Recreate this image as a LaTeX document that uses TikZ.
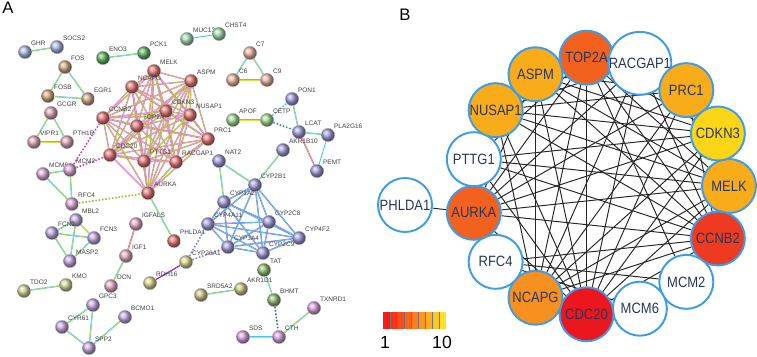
\documentclass[tikz,border=0pt]{standalone}
\usepackage{fontspec}
\setmainfont{Liberation Sans}
\newfontfamily\hubfont[FakeStretch=0.87]{Liberation Sans}
\usepackage{tikz}
\usetikzlibrary{backgrounds}

% STRING sphere colours
\definecolor{sBlu}{RGB}{150,170,222}
\definecolor{sGrn}{RGB}{60,165,60}
\definecolor{sMint}{RGB}{140,215,160}
\definecolor{sTan}{RGB}{195,150,100}
\definecolor{sPink}{RGB}{215,145,170}
\definecolor{sSalm}{RGB}{230,160,140}
\definecolor{sLime}{RGB}{140,210,120}
\definecolor{sPurp}{RGB}{140,135,215}
\definecolor{sRed}{RGB}{225,85,85}
\definecolor{sOrch}{RGB}{215,150,205}
\definecolor{sLav}{RGB}{180,150,222}
\definecolor{sRose}{RGB}{222,150,185}
\definecolor{sLil}{RGB}{185,150,225}
\definecolor{sOliv}{RGB}{200,205,130}
\definecolor{sKhak}{RGB}{215,205,120}
\definecolor{sMoss}{RGB}{120,175,80}
\definecolor{sSand}{RGB}{190,185,105}
\definecolor{sMag}{RGB}{210,140,220}
% evidence lines
\definecolor{eCyn}{RGB}{70,200,230}
\definecolor{eYel}{RGB}{215,225,60}
\definecolor{eMag}{RGB}{220,60,200}
\definecolor{eBlu}{RGB}{70,80,230}
% hub colours
\definecolor{hRed}{RGB}{236,22,30}
\definecolor{hRedO}{RGB}{239,58,34}
\definecolor{hOrR}{RGB}{242,98,30}
\definecolor{hOrg}{RGB}{246,144,30}
\definecolor{hOrgL}{RGB}{249,172,26}
\definecolor{hYel}{RGB}{252,214,22}
\definecolor{hBord}{RGB}{60,155,235}
\definecolor{hText}{RGB}{40,55,85}
\definecolor{cbR}{RGB}{255,25,20}
\definecolor{cbY}{RGB}{255,225,40}

\tikzset{
	sph/.style={circle, inner sep=0pt, minimum size=0.27cm, ball color=#1!80!white, draw=black!25, line width=0.15pt},
	albl/.style={font=\fontsize{3.7}{4}\selectfont, text=black!75, inner sep=0.5pt},
	lnk/.style 2 args={draw=#1, double=#2, double distance=0.3pt, line width=0.25pt},
	dlnk/.style={densely dotted, line width=0.9pt, draw=#1},
	hub/.style={circle, minimum size=1.08cm, inner sep=0pt, draw=hBord, line width=1.1pt, fill=#1, text=hText, font=\hubfont\fontsize{8.5}{9}\selectfont},
	hlink/.style={draw=black!85, line width=0.55pt},
	tag/.style={font=\fontsize{9.5}{10}\selectfont}
}

\begin{document}
\begin{tikzpicture}[x=0.02cm, y=-0.02cm]
	\useasboundingbox (0,0) rectangle (757,357);
	
	\node[tag] (tagA) at (8,8) {A};
	\node[tag] (tagB) at (405,15) {B};
	
	% --- panel A: STRING network
	\foreach \n/\x/\y/\c in {GHR/25/52/sBlu, SOCS2/57/47/sBlu, ENO3/103/58/sGrn, PCK1/144/53/sGrn,
		MUC13/187/39/sMint, CHST4/219/34/sMint, FOS/65/67/sTan, FOSB/48/96/sTan, EGR1/88/99/sTan,
		GCGR/51/113/sPink, VIPR1/34/142/sPink, PTH1R/67/142/sPink, C7/250/53/sSalm, C6/233/80/sSalm,
		C9/267/80/sSalm, PON1/292/99/sPurp, APOF/233/120/sLime, CETP/267/120/sLime, LCAT/299/132/sPurp,
		PLA2G16/328/135/sPurp, AKR1B10/283/150/sPurp, PEMT/317/171/sPurp, NAT2/219/161/sPurp,
		MELK/154/71/sRed, NCAPG/132/87/sRed, ASPM/191/81/sRed, CDKN3/166/111/sRed, NUSAP1/190/115/sRed,
		CCNB2/103/118/sRed, TOP2A/137/126/sRed, PRC1/208/139/sRed, CDC20/110/155/sRed, PTTG1/144/161/sRed,
		RACGAP1/176/162/sRed, AURKA/148/193/sRed, PHLDA1/174/241/sRed,
		MCM6/43/174/sOrch, MCM2/70/170/sOrch, RFC4/72/204/sOrch, MBL2/76/220/sLav, FCN2/52/233/sLav,
		FCN3/94/238/sLav, MASP2/70/261/sLav, IGFALS/136/224/sRose, IGF1/126/256/sRose, DCN/111/286/sRose,
		TDO2/24/291/sOliv, KMO/66/285/sOliv, RDH16/150/283/sKhak, CYP26A1/186/262/sKhak,
		GPC3/93/305/sLil, BCMO1/125/317/sLil, CYR61/62/327/sLil, SPP2/89/348/sLil,
		CYP2B1/255/185/sPurp, CYP1A2/224/202/sPurp, CYP4A11/208/224/sPurp, CYP2C8/269/222/sPurp,
		CYP4F2/299/238/sPurp, CYP3A4/228/247/sPurp, CYP2C9/263/253/sPurp,
		TAT/264/270/sMoss, BHMT/274/300/sMoss, AKR1D1/241/289/sSand, SRD5A2/201/295/sSand,
		TXNRD1/314/308/sMag, SDS/243/337/sMag, CTH/279/337/sMag} {
		\node[sph=\c, label={[albl]45:\n}] (\n) at (\x,\y) {};
	}
	
	\begin{pgfonlayer}{background}
		% dense clusters
		\foreach \a [count=\i] in {MELK,NCAPG,ASPM,CDKN3,NUSAP1,CCNB2,TOP2A,PRC1,CDC20,PTTG1,RACGAP1,AURKA} {
			\foreach \b [count=\j] in {MELK,NCAPG,ASPM,CDKN3,NUSAP1,CCNB2,TOP2A,PRC1,CDC20,PTTG1,RACGAP1,AURKA} {
				\ifnum\j>\i \draw[lnk={eMag!75}{eYel!85!green}] (\a) -- (\b); \fi
			}
		}
		\foreach \a [count=\i] in {CYP2B1,CYP1A2,CYP4A11,CYP2C8,CYP4F2,CYP3A4,CYP2C9} {
			\foreach \b [count=\j] in {CYP2B1,CYP1A2,CYP4A11,CYP2C8,CYP4F2,CYP3A4,CYP2C9} {
				\ifnum\j>\i \draw[lnk={eBlu!75}{eCyn!80}] (\a) -- (\b); \fi
			}
		}
		% small groups
		\foreach \a/\b in {GHR/SOCS2, ENO3/PCK1, FOS/FOSB, FOS/EGR1, FOSB/EGR1, GCGR/VIPR1, GCGR/PTH1R,
			VIPR1/PTH1R, C7/C6, C7/C9, C6/C9, APOF/CETP, PON1/LCAT, LCAT/PLA2G16, AKR1B10/CYP2B1,
			NAT2/CYP1A2, NAT2/CYP2B1, MCM6/MCM2, MCM6/RFC4, MCM2/RFC4, AURKA/PHLDA1, MBL2/FCN2, MBL2/FCN3,
			MBL2/MASP2, FCN2/FCN3, FCN2/MASP2, FCN3/MASP2, IGF1/DCN, GPC3/CYR61, GPC3/SPP2, CYR61/SPP2,
			SPP2/BCMO1, TDO2/KMO, TAT/BHMT, CTH/SDS, CTH/TXNRD1, SRD5A2/AKR1D1}
			\draw[lnk={eCyn}{eYel}] (\a) -- (\b);
		\draw[draw=eCyn, line width=0.5pt] (MUC13) -- (CHST4);
		\draw[draw=eCyn, line width=0.5pt] (PLA2G16) -- (PEMT);
		\draw[lnk={eMag}{eYel}] (LCAT) -- (PEMT);
		\draw[lnk={eMag}{eYel}] (IGFALS) -- (IGF1);
		\draw[lnk={eMag}{eBlu}] (RDH16) -- (CYP26A1);
		% dotted links
		\draw[dlnk=eMag] (MCM2) -- (CCNB2);
		\draw[dlnk=eMag] (MCM2) -- (CDC20);
		\draw[dlnk=eYel!80!black] (RFC4) -- (AURKA);
		\draw[dlnk=eCyn!70!black] (CETP) -- (LCAT);
		\draw[dlnk=eCyn] (CETP) -- (PON1);
		\draw[dlnk=eBlu!70] (CYP26A1) -- (CYP4A11);
		\draw[dlnk=eBlu!70] (CYP26A1) -- (CYP3A4);
		\draw[dlnk=eCyn!60!black] (BHMT) -- (CTH);
	\end{pgfonlayer}
	
	% --- panel B: hub genes
	\begin{scope}[shift={(600,186)}]
		\foreach \n/\a/\c in {MELK/0/hOrgL, CCNB2/24/hRedO, MCM2/48/white, MCM6/72/white, CDC20/96/hRed,
			NCAPG/120/hOrg, RFC4/144/white, AURKA/168/hOrR, PTTG1/192/white, NUSAP1/216/hOrgL,
			ASPM/240/hOrgL, TOP2A/264/hOrR, RACGAP1/288/white, PRC1/312/hOrgL, CDKN3/336/hYel}
			\node[hub=\c] (h\n) at (\a:129) {\n};
	\end{scope}
	\node[hub=white] (hPHLDA1) at (405,205) {PHLDA1};
	
	\begin{pgfonlayer}{background}
		\foreach \a/\b in {CDC20/TOP2A, CDC20/CCNB2, CDC20/AURKA, CDC20/NCAPG, CDC20/ASPM, CDC20/NUSAP1,
			CDC20/PRC1, CDC20/MELK, CDC20/CDKN3, CDC20/RACGAP1, CDC20/PTTG1, CDC20/RFC4, CDC20/MCM2,
			CDC20/MCM6, CCNB2/TOP2A, CCNB2/AURKA, CCNB2/NCAPG, CCNB2/ASPM, CCNB2/NUSAP1, CCNB2/PRC1,
			CCNB2/CDKN3, CCNB2/RACGAP1, CCNB2/PTTG1, CCNB2/MCM2, CCNB2/RFC4, TOP2A/AURKA, TOP2A/NCAPG,
			TOP2A/NUSAP1, TOP2A/PRC1, TOP2A/MELK, TOP2A/CDKN3, TOP2A/PTTG1, TOP2A/MCM2, AURKA/NCAPG,
			AURKA/ASPM, AURKA/NUSAP1, AURKA/PRC1, AURKA/MELK, AURKA/CDKN3, AURKA/RACGAP1, AURKA/PHLDA1,
			NCAPG/ASPM, NCAPG/NUSAP1, NCAPG/PRC1, NCAPG/MELK, NCAPG/CDKN3, NCAPG/RACGAP1, ASPM/PRC1,
			ASPM/MELK, ASPM/CDKN3, NUSAP1/PRC1, NUSAP1/MELK, NUSAP1/CDKN3, NUSAP1/RACGAP1, PRC1/MELK,
			MCM2/RFC4, MCM6/RFC4, PTTG1/CDKN3, PTTG1/MELK}
			\draw[hlink] (h\a) -- (h\b);
	\end{pgfonlayer}
	
	% colour scale
	\foreach \i in {0,...,8} {
		\pgfmathtruncatemacro\p{\i*100/8}
		\fill[cbY!\p!cbR] (383+\i*7,312) rectangle ++(7,17);
	}
	\foreach \i in {1,...,8}
		\draw[black!55, line width=0.35pt] (383+\i*7,312) -- ++(0,17);
	\node[tag, font=\fontsize{10}{11}\selectfont] (cbLo) at (385,342) {1};
	\node[tag, font=\fontsize{10}{11}\selectfont] (cbHi) at (442,342) {10};
\end{tikzpicture}
\end{document}
